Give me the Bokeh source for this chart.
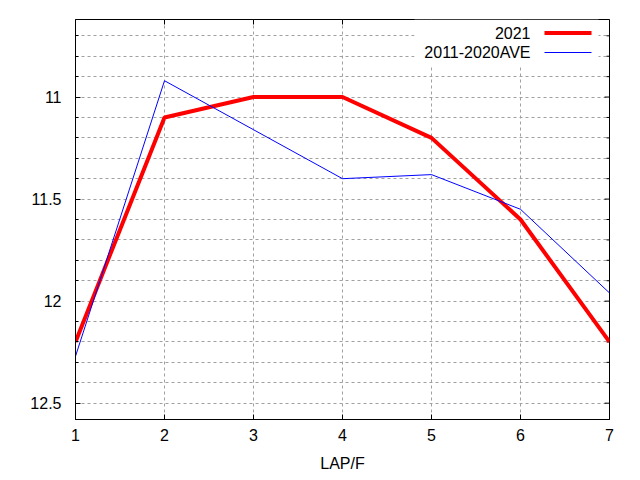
import math
from bokeh.plotting import figure
from bokeh.models import (Range1d, FixedTicker, Arrow, Label, BoxAnnotation)
from bokeh.embed import file_html
from bokeh.resources import INLINE

# ---- data ----
laps = [1, 2, 3, 4, 5, 6, 7]
y2021 = [12.2, 11.1, 11.0, 11.0, 11.2, 11.6, 12.2]
y_ave = [12.27, 10.92, 11.16, 11.40, 11.38, 11.55, 11.96]
series_names = ["2021", "2011-2020AVE"]
series_colors = ["#ff0000", "#0000ff"]
series_widths = [4, 1]
x_ticks = [1, 2, 3, 4, 5, 6, 7]
y_major = [11, 11.5, 12, 12.5]
y_minor = [10.7, 10.8, 10.9, 11.1, 11.2, 11.3, 11.4, 11.6, 11.7, 11.8, 11.9,
           12.1, 12.2, 12.3, 12.4]
x_label = "LAP/F"
y_top, y_bottom = 10.62, 12.58
x_left, x_right = 1, 7

FONT = "Liberation Sans"
FS = "16px"
GRID = "#a0a0a0"

p = figure(width=632, height=480, output_backend="svg", toolbar_location=None,
           x_range=Range1d(x_left, x_right), y_range=Range1d(y_bottom, y_top),
           min_border_left=75, min_border_right=23, min_border_top=19,
           min_border_bottom=61, x_axis_label=x_label)
p.background_fill_color = "white"
p.border_fill_color = "white"
p.outline_line_color = "black"
p.outline_line_width = 1

xt = FixedTicker(ticks=x_ticks)
yt = FixedTicker(ticks=y_major, minor_ticks=y_minor)

xa = p.xaxis[0]
xa.ticker = xt
xa.major_tick_in = 5
xa.major_tick_out = 0
xa.minor_tick_in = 0
xa.minor_tick_out = 0
xa.major_label_standoff = 9
xa.major_label_text_font = FONT
xa.major_label_text_font_size = FS
xa.major_label_text_color = "black"
xa.axis_label_standoff = 11
xa.axis_label_text_font = FONT
xa.axis_label_text_font_size = FS
xa.axis_label_text_font_style = "normal"
xa.axis_label_text_color = "black"
xa.axis_line_color = "black"
xa.major_tick_line_color = "black"

ya = p.yaxis[0]
ya.ticker = yt
ya.major_tick_in = 5
ya.major_tick_out = 0
ya.minor_tick_in = 3
ya.minor_tick_out = 0
ya.major_label_standoff = 14
ya.major_label_text_font = FONT
ya.major_label_text_font_size = FS
ya.major_label_text_color = "black"
ya.axis_line_color = "black"
ya.major_tick_line_color = "black"
ya.minor_tick_line_color = "black"

p.xgrid.ticker = xt
p.ygrid.ticker = yt
for g in (p.xgrid, p.ygrid):
    g.grid_line_color = GRID
    g.grid_line_dash = "3 3"
    g.grid_line_width = 1
p.ygrid.minor_grid_line_color = GRID
p.ygrid.minor_grid_line_dash = "3 3"

# mirrored ticks on top and right edges (clipped to the frame)
p.scatter(x_ticks, [y_top] * len(x_ticks), marker="dash", size=10,
          angle=math.pi / 2, line_color="black", line_width=1)
p.scatter([x_right] * len(y_major), y_major, marker="dash", size=10,
          line_color="black", line_width=1)
p.scatter([x_right] * len(y_minor), y_minor, marker="dash", size=6,
          line_color="black", line_width=1)

# data lines
for ys, c, w in zip([y2021, y_ave], series_colors, series_widths):
    p.line(laps, ys, line_color=c, line_width=w)

# legend (gnuplot style: right-aligned text then sample, on a white box)
p.add_layout(BoxAnnotation(left=339, right=523, bottom=354, top=400,
                           left_units="screen", right_units="screen",
                           bottom_units="screen", top_units="screen",
                           fill_color="white", fill_alpha=1, line_color=None))
rows_y = [386.5, 367.0]
for name, c, w, yy in zip(series_names, series_colors, series_widths, rows_y):
    p.add_layout(Label(x=455, y=yy, x_units="screen", y_units="screen",
                       text=name, text_align="right", text_baseline="middle",
                       text_font=FONT, text_font_size=FS, text_color="black"))
    p.add_layout(Arrow(x_start=469, y_start=yy, x_end=516, y_end=yy,
                       start_units="screen", end_units="screen",
                       start=None, end=None, line_color=c, line_width=w))

open("out.html", "w").write(file_html(p, INLINE))
